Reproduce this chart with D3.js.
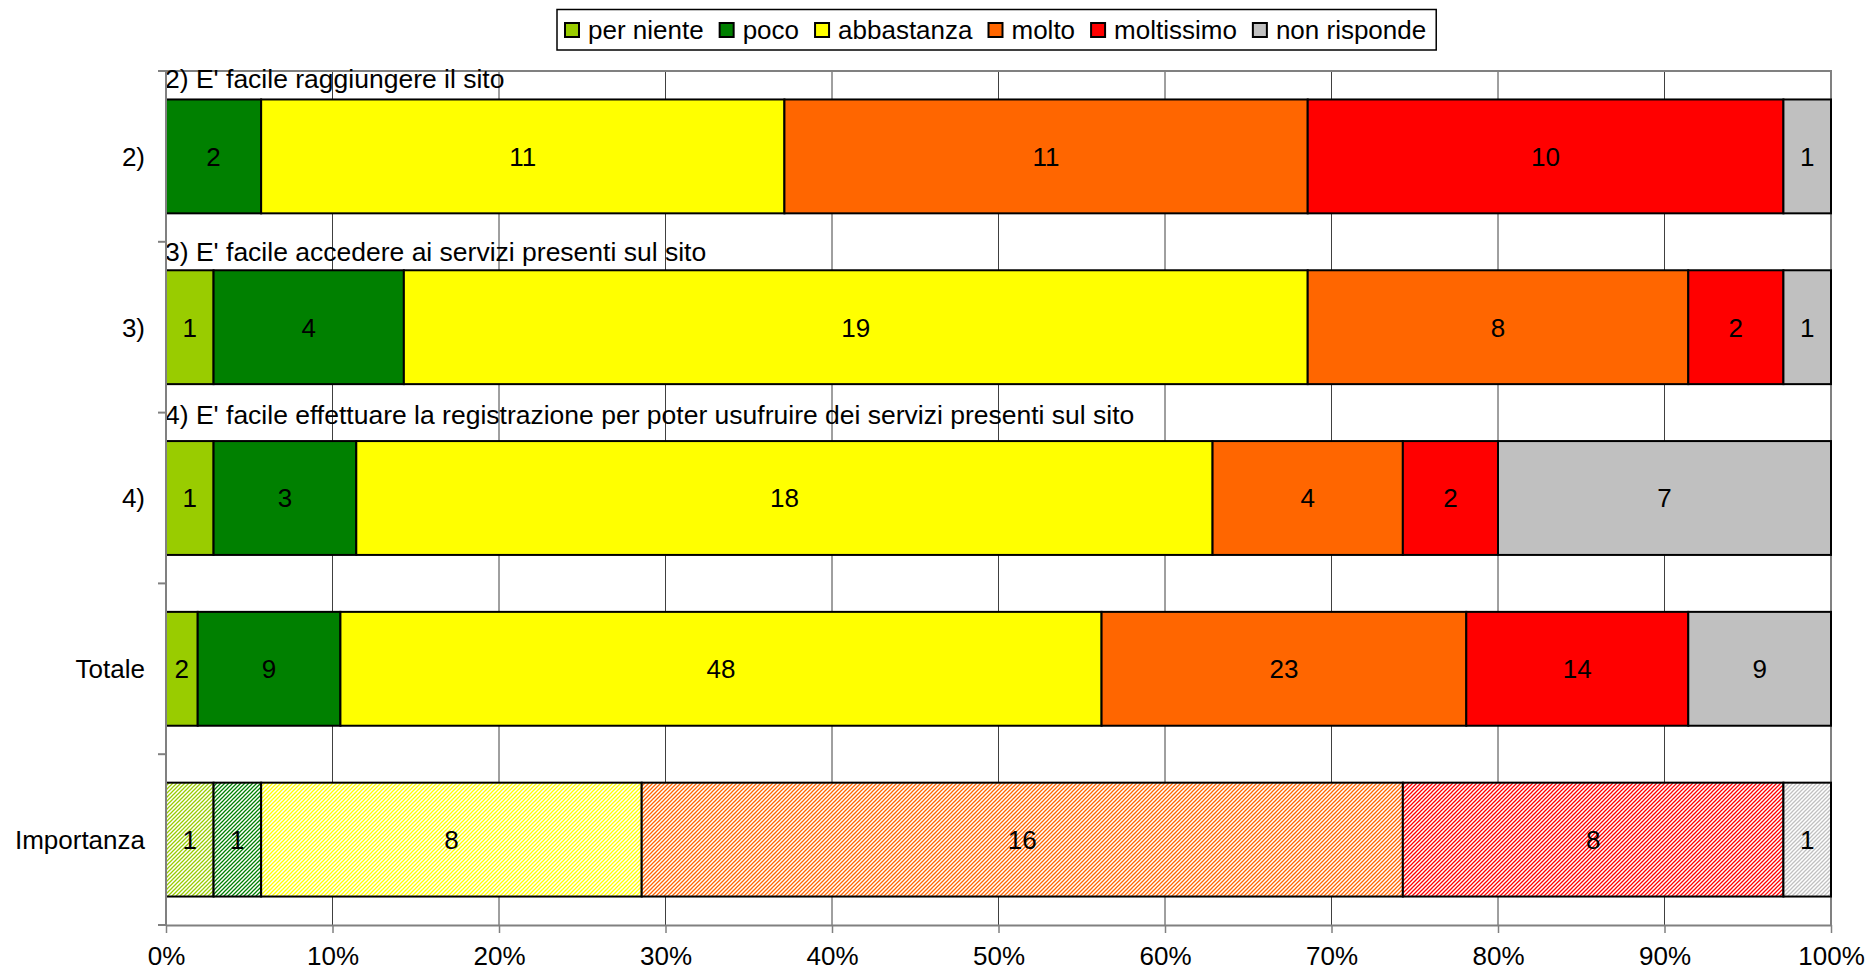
<!DOCTYPE html>
<html>
<head>
<meta charset="utf-8">
<script src="https://cdn.jsdelivr.net/npm/d3@7"></script>
<style>
  html, body { margin: 0; padding: 0; background: #fff; }
  svg { display: block; font-family: "Liberation Sans", Arial, sans-serif; }
</style>
</head>
<body>
<svg id="chart" width="1870" height="977"></svg>
<script>
// Survey answers per question (counts of respondents)
const categories = ["2)", "3)", "4)", "Totale", "Importanza"];
const seriesNames = ["per niente", "poco", "abbastanza", "molto", "moltissimo", "non risponde"];
const perNiente   = [0, 1, 1, 2, 1];
const poco        = [2, 4, 3, 9, 1];
const abbastanza  = [11, 19, 18, 48, 8];
const molto       = [11, 8, 4, 23, 16];
const moltissimo  = [10, 2, 2, 14, 8];
const nonRisponde = [1, 1, 7, 9, 1];
const seriesColors = ["#99CC00", "#008000", "#FFFF00", "#FF6600", "#FF0000", "#C0C0C0"];
const xTickValues = [0, 0.1, 0.2, 0.3, 0.4, 0.5, 0.6, 0.7, 0.8, 0.9, 1];
const questionTitles = [
  "2) E' facile raggiungere il sito",
  "3) E' facile accedere ai servizi presenti sul sito",
  "4) E' facile effettuare la registrazione per poter usufruire dei servizi presenti sul sito"
];
const hatchedCategory = "Importanza";

const seriesValues = [perNiente, poco, abbastanza, molto, moltissimo, nonRisponde];
const rows = categories.map((c, i) => {
  const r = { category: c };
  seriesNames.forEach((s, j) => { r[s] = seriesValues[j][i]; });
  return r;
});

const svg = d3.select("#chart");
const FONT = 26;
const plot = { left: 166, right: 1831, top: 71, bottom: 925 };

const x = d3.scaleLinear().domain([0, 1]).range([plot.left, plot.right]);
const y = d3.scaleBand().domain(categories).range([plot.top, plot.bottom])
  .paddingInner(1 / 3).paddingOuter(1 / 6);
const color = d3.scaleOrdinal().domain(seriesNames).range(seriesColors);

const stacked = d3.stack().keys(seriesNames).offset(d3.stackOffsetExpand)(rows);

// Hatch patterns for the "Importanza" row
const defs = svg.append("defs");
seriesNames.forEach((s, i) => {
  const p = defs.append("pattern")
    .attr("id", "hatch" + i)
    .attr("patternUnits", "userSpaceOnUse")
    .attr("width", 4).attr("height", 4);
  p.append("rect").attr("width", 4).attr("height", 4).attr("fill", "#fff");
  p.append("path")
    .attr("d", "M-1,1 l2,-2 M0,4 l4,-4 M3,5 l2,-2")
    .attr("stroke", color(s)).attr("stroke-width", 1.25);
});

// Vertical gridlines
svg.append("g").selectAll("line").data(xTickValues.slice(1, -1)).join("line")
  .attr("x1", d => x(d)).attr("x2", d => x(d))
  .attr("y1", plot.top).attr("y2", plot.bottom)
  .attr("stroke", "#404040").attr("stroke-width", 1);

// Plot area border (top and right)
svg.append("path")
  .attr("d", `M${plot.left},${plot.top}H${plot.right}V${plot.bottom}`)
  .attr("fill", "none").attr("stroke", "#808080").attr("stroke-width", 2);

// Question titles above the first three bars
const titleNudge = [0, 2, -6];
svg.append("g").selectAll("text").data(questionTitles).join("text")
  .attr("x", plot.left - 1)
  .attr("y", (d, i) => y(categories[i]) - 11 + titleNudge[i])
  .attr("font-size", 26.5).attr("fill", "#000")
  .text(d => d);

// Stacked bars
const layers = svg.append("g").selectAll("g").data(stacked).join("g");
layers.selectAll("rect").data((d, i) => d.map(v => ({ v, key: d.key, idx: i }))).join("rect")
  .attr("x", d => x(d.v[0]))
  .attr("width", d => x(d.v[1]) - x(d.v[0]))
  .attr("y", d => y(d.v.data.category))
  .attr("height", y.bandwidth())
  .attr("fill", d => d.v.data.category === hatchedCategory ? `url(#hatch${d.idx})` : color(d.key))
  .attr("stroke", "#000").attr("stroke-width", 2)
  .style("display", d => d.v.data[d.key] === 0 ? "none" : null);

// Value labels
layers.selectAll("text").data(d => d.map(v => ({ v, key: d.key }))).join("text")
  .filter(d => d.v.data[d.key] > 0)
  .attr("x", d => (x(d.v[0]) + x(d.v[1])) / 2)
  .attr("y", d => y(d.v.data.category) + y.bandwidth() / 2)
  .attr("dy", "0.36em")
  .attr("text-anchor", "middle")
  .attr("font-size", FONT).attr("fill", "#000")
  .text(d => d.v.data[d.key]);

// Left (category) axis
const step = y.step();
const boundaries = d3.range(categories.length + 1).map(i => plot.top + i * step);
svg.append("line")
  .attr("x1", plot.left).attr("x2", plot.left)
  .attr("y1", plot.top).attr("y2", plot.bottom)
  .attr("stroke", "#808080").attr("stroke-width", 2);
svg.append("g").selectAll("line").data(boundaries).join("line")
  .attr("x1", plot.left - 8).attr("x2", plot.left)
  .attr("y1", d => d).attr("y2", d => d)
  .attr("stroke", "#808080").attr("stroke-width", 2);
svg.append("g").selectAll("text").data(categories).join("text")
  .attr("x", plot.left - 21)
  .attr("y", d => y(d) + y.bandwidth() / 2)
  .attr("dy", "0.36em")
  .attr("text-anchor", "end")
  .attr("font-size", FONT).attr("fill", "#000")
  .text(d => d);

// Bottom (percentage) axis
const xAxis = svg.append("g").attr("transform", `translate(0,${plot.bottom})`)
  .call(d3.axisBottom(x).tickValues(xTickValues).tickFormat(d3.format(".0%"))
    .tickSize(8).tickSizeOuter(0).tickPadding(14));
xAxis.select(".domain").attr("stroke", "#808080").attr("stroke-width", 2);
xAxis.selectAll(".tick line").attr("stroke", "#808080").attr("stroke-width", 1.5);
xAxis.selectAll(".tick text").attr("font-size", FONT).attr("fill", "#000")
  .attr("font-family", "Liberation Sans, Arial, sans-serif");

// Legend
const legend = svg.append("g");
const legendBox = legend.append("rect")
  .attr("x", 557).attr("y", 9.5).attr("height", 40.5)
  .attr("fill", "#fff").attr("stroke", "#000").attr("stroke-width", 1.5);
let lx = 565;
seriesNames.forEach(s => {
  legend.append("rect")
    .attr("x", lx).attr("y", 23).attr("width", 14).attr("height", 14)
    .attr("fill", color(s)).attr("stroke", "#000").attr("stroke-width", 2);
  const t = legend.append("text")
    .attr("x", lx + 23).attr("y", 39)
    .attr("font-size", FONT).attr("fill", "#000")
    .text(s);
  lx += 23 + t.node().getComputedTextLength() + 16;
});
legendBox.attr("width", lx - 16 + 10 - 557);
</script>
</body>
</html>
